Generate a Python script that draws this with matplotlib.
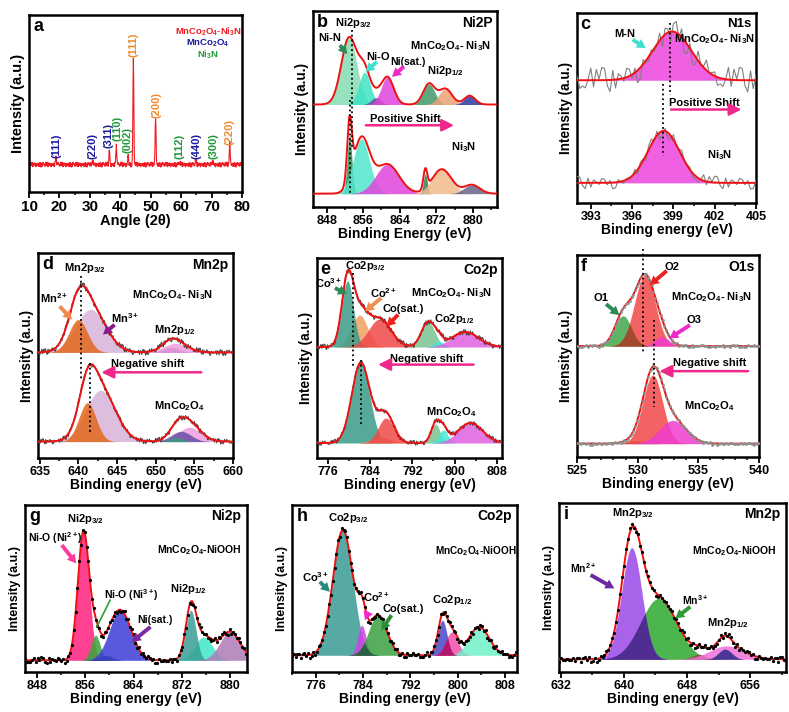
import numpy as np
import matplotlib
matplotlib.use('Agg')
import matplotlib.pyplot as plt
from matplotlib.ticker import MultipleLocator

plt.rcParams['font.family'] = ['Liberation Sans', 'DejaVu Sans']
plt.rcParams['font.weight'] = 'bold'
plt.rcParams['axes.labelweight'] = 'bold'
plt.rcParams['mathtext.fontset'] = 'custom'
plt.rcParams['mathtext.rm'] = 'Liberation Sans:bold'
plt.rcParams['mathtext.it'] = 'Liberation Sans:bold'
plt.rcParams['mathtext.bf'] = 'Liberation Sans:bold'
plt.rcParams['mathtext.default'] = 'rm'

# jitter, reused cyclically
JITTER = [0.31, -0.52, 0.84, -0.18, -0.93, 0.42, 0.08, -0.61, 0.73, -0.27,
          0.55, -0.82, 0.19, 0.96, -0.44, -0.07, 0.63, -0.71, 0.36, -0.24,
          0.88, -0.57, 0.12, -0.98, 0.47, -0.13, 0.67, -0.41, 0.03, 0.78,
          -0.66, 0.27, -0.34, 0.51, -0.87, 0.92, -0.04, 0.39, -0.76, 0.22,
          -0.29, 0.71, -0.49, 0.14, -0.91, 0.58, -0.21, 0.33, -0.63, 0.81]

# (a) XRD
XRD_BASE = 0.155
XRD_POS = [18.9, 31.0, 36.4, 38.7, 42.6, 44.3, 51.6, 59.5, 64.8, 70.4, 76.0]
XRD_HGT = [0.05, 0.015, 0.08, 0.11, 0.05, 0.60, 0.27, 0.012, 0.02, 0.015, 0.12]
XRD_HKL = ['(111)', '(220)', '(311)', '(110)', '(002)', '(111)', '(200)',
           '(112)', '(440)', '(300)', '(220)']
XRD_PHASE = ['s', 's', 's', 'n', 'n', 'c', 'c', 'n', 's', 'n', 'c']

# (b) Ni2p, MnCo2O4-Ni3N (top) and Ni3N (bottom)
B_TOP_BASE = 0.523
B_TOP_CEN = [852.9, 856.3, 858.8, 861.3, 870.4, 874.0, 879.3]
B_TOP_HGT = [0.34, 0.165, 0.035, 0.14, 0.105, 0.08, 0.045]
B_TOP_FWHM = [4.0, 3.0, 2.5, 3.2, 3.0, 3.4, 2.8]
B_BOT_BASE = 0.068
B_BOT_CEN = [853.0, 855.6, 861.3, 869.6, 873.2, 879.8]
B_BOT_HGT = [0.30, 0.28, 0.15, 0.10, 0.125, 0.045]
B_BOT_FWHM = [1.2, 4.2, 6.0, 1.0, 5.0, 4.0]

# (c) N1s
C_TOP_BASE = 0.646
C_TOP_CEN, C_TOP_HGT, C_TOP_FWHM = [398.9], [0.257], [3.3]
C_BOT_BASE = 0.106
C_BOT_CEN, C_BOT_HGT, C_BOT_FWHM = [398.3], [0.274], [2.7]

# (d) Mn2p
D_TOP_BASE = 0.515
D_TOP_CEN = [641.6, 640.0, 652.0, 652.6]
D_TOP_HGT = [0.21, 0.16, 0.025, 0.045]
D_TOP_FWHM = [4.6, 2.8, 2.5, 3.5]
D_BOT_BASE = 0.08
D_BOT_CEN = [642.9, 641.2, 654.4, 653.3, 652.6]
D_BOT_HGT = [0.25, 0.19, 0.07, 0.05, 0.02]
D_BOT_FWHM = [4.5, 2.6, 3.5, 3.0, 2.0]

# (e) Co2p
E_TOP_BASE = 0.555
E_TOP_CEN = [782.0, 779.7, 785.8, 795.0, 797.0, 802.0]
E_TOP_HGT = [0.16, 0.33, 0.14, 0.125, 0.03, 0.075]
E_TOP_FWHM = [3.5, 2.6, 5.0, 3.0, 2.0, 6.0]
E_BOT_BASE = 0.075
E_BOT_CEN = [782.2, 786.0, 787.0, 796.4, 797.9, 803.0]
E_BOT_HGT = [0.40, 0.03, 0.125, 0.095, 0.065, 0.10]
E_BOT_FWHM = [4.0, 4.0, 3.5, 2.0, 2.0, 5.5]

# (f) O1s
F_TOP_BASE = 0.549
F_TOP_CEN = [528.8, 530.6, 532.0]
F_TOP_HGT = [0.15, 0.35, 0.045]
F_TOP_FWHM = [1.6, 2.0, 1.4]
F_BOT_BASE = 0.066
F_BOT_CEN = [529.8, 531.25, 532.9]
F_BOT_HGT = [0.015, 0.34, 0.115]
F_BOT_FWHM = [2.0, 1.9, 2.6]

# (g) Ni2p, MnCo2O4-NiOOH
G_BASE = 0.07
G_CEN = [855.7, 857.7, 859.5, 861.8, 875.6, 873.5, 880.0]
G_HGT = [0.77, 0.15, 0.03, 0.30, 0.14, 0.30, 0.17]
G_FWHM = [2.2, 1.8, 2.5, 4.2, 3.5, 2.0, 4.0]

# (h) Co2p, MnCo2O4-NiOOH
H_BASE = 0.10
H_CEN = [780.6, 783.8, 786.5, 797.4, 799.0, 803.6]
H_HGT = [0.75, 0.18, 0.24, 0.21, 0.14, 0.17]
H_FWHM = [4.0, 1.6, 3.6, 1.8, 2.4, 4.0]

# (i) Mn2p, MnCo2O4-NiOOH
I_BASE = 0.075
I_CEN = [644.4, 641.0, 649.5, 653.0, 652.8]
I_HGT = [0.36, 0.66, 0.03, 0.08, 0.06]
I_FWHM = [5.4, 3.0, 2.0, 5.0, 2.0]

RED = '#ee1111'
SHIFT = '#f0288c'
W, H = 789, 712


def rect(x0, y0, x1, y1):
    return [x0 / W, 1 - y1 / H, (x1 - x0) / W, (y1 - y0) / H]


def components(x, cen, hgt, fw):
    x = np.asarray(x)[None, :]
    c = np.asarray(cen)[:, None]
    h = np.asarray(hgt)[:, None]
    w = np.asarray(fw)[:, None]
    return h * np.exp(-4 * np.log(2) * ((x - c) / w) ** 2)


def jitter(n, scale, offset=0):
    idx = (np.arange(n) * 7 + offset) % len(JITTER)
    return np.asarray(JITTER)[idx] * scale


def spectrum(ax, xr, base, cen, hgt, fw, colors, overlaps=(), alpha=0.85):
    x = np.linspace(xr[0], xr[1], 900)
    parts = components(x, cen, hgt, fw)
    for p, col in zip(parts, colors):
        ax.fill_between(x, base, base + p, where=p > 1e-3, color=col,
                        alpha=alpha, lw=0, zorder=2)
    for i, j, col in overlaps:
        ov = np.minimum(parts[i], parts[j])
        ax.fill_between(x, base, base + ov, where=ov > 1e-3, color=col,
                        alpha=0.9, lw=0, zorder=3)
    ax.plot(x, base + parts.sum(axis=0), color=RED, lw=1.4, zorder=6)


def raw(ax, xr, base, cen, hgt, fw, step, scale, kind, offset=0):
    x = np.arange(xr[0], xr[1] + 1e-9, step)
    y = base + components(x, cen, hgt, fw).sum(axis=0) + jitter(len(x), scale, offset)
    if kind == 'line':
        ax.plot(x, y, color='#3a3a3a', lw=0.7, zorder=4)
    elif kind == 'grey':
        ax.plot(x, y, color='#808080', lw=0.8, zorder=4)
    elif kind == 'gdots':
        ax.plot(x, y, ls='none', marker='o', ms=1.0, color='#909090', zorder=7)
    else:
        ax.plot(x, y, ls='none', marker='o', ms=1.3, color='k', zorder=7)


def style(ax, xlim, major, minor, xlabel, letter, title, tsize=9, lsize=10,
          ysize=9.8, tlsize=10):
    ax.set_xlim(xlim)
    ax.set_ylim(0, 1)
    ax.set_yticks([])
    ax.xaxis.set_major_locator(MultipleLocator(major))
    ax.xaxis.set_minor_locator(MultipleLocator(minor))
    ax.tick_params(axis='x', which='major', direction='out', length=4,
                   width=1.3, labelsize=tsize, pad=1.5)
    ax.tick_params(axis='x', which='minor', direction='out', length=2.5, width=1.1)
    for s in ax.spines.values():
        s.set_linewidth(1.8)
    ax.set_xlabel(xlabel, fontsize=lsize, labelpad=0)
    ax.set_ylabel('Intensity (a.u.)', fontsize=ysize, labelpad=3)
    ax.text(0.02, 0.985, letter, transform=ax.transAxes, ha='left', va='top',
            fontsize=13, fontweight='bold')
    if title:
        ax.text(0.975, 0.975, title, transform=ax.transAxes, ha='right',
                va='top', fontsize=tlsize, fontweight='bold')


def txt(ax, x, y, s, size=8, color='k'):
    ax.text(x, y, s, fontsize=size, color=color, ha='center', va='center',
            fontweight='bold', zorder=9)


def fat(ax, frm, to, color):
    ax.annotate('', xy=to, xytext=frm, zorder=9,
                arrowprops=dict(arrowstyle='simple,head_width=0.9,head_length=0.8,tail_width=0.35',
                                fc=color, ec='none', shrinkA=0, shrinkB=0,
                                mutation_scale=8))


def shift(ax, frm, to):
    ax.annotate('', xy=to, xytext=frm, zorder=9,
                arrowprops=dict(arrowstyle='-|>,head_width=0.3,head_length=0.6',
                                color=SHIFT, lw=1.8, shrinkA=0, shrinkB=0,
                                mutation_scale=12))


def dotted(ax, x, y0, y1, clip=True):
    ax.plot([x, x], [y0, y1], ls=':', color='k', lw=1.3, zorder=8, clip_on=clip)


fig = plt.figure(figsize=(7.89, 7.12), dpi=100)

# ---------------- a ----------------
ax = fig.add_axes(rect(29, 15, 242, 192))
x = np.union1d(np.arange(10, 80.001, 0.1), XRD_POS)
y = XRD_BASE + components(x, XRD_POS, XRD_HGT, [0.35] * len(XRD_POS)).sum(axis=0) \
    + jitter(len(x), 0.014)
ax.plot(x, y, color='#ee1c24', lw=0.8)
style(ax, (10, 80), 10, 5, 'Angle (2θ)', 'a', None, tsize=11, lsize=10.5, ysize=10.5)
phase_col = {'s': '#1a1aa0', 'n': '#1f9a35', 'c': '#f08a30'}
hkl_x = [19.0, 31.0, 36.0, 39.2, 42.3, 44.2, 52.0, 59.5, 65.0, 70.5, 76.0]
hkl_y = [0.26, 0.26, 0.32, 0.36, 0.295, 0.83, 0.49, 0.26, 0.26, 0.26, 0.34]
for lab, ph, hx, hy in zip(XRD_HKL, XRD_PHASE, hkl_x, hkl_y):
    ax.text(hx, hy, lab, rotation=90, ha='center', va='center', fontsize=8,
            color=phase_col[ph], fontweight='bold')
txt(ax, 68.8, 0.906, 'MnCo$_2$O$_4$-Ni$_3$N', 6.8, '#ee1c24')
txt(ax, 68.8, 0.84, 'MnCo$_2$O$_4$', 6.8, '#1a1aa0')
txt(ax, 68.8, 0.778, 'Ni$_3$N', 6.8, '#1f9a35')

# ---------------- b ----------------
ax = fig.add_axes(rect(313, 11, 497, 207))
xr = (845, 885.3)
spectrum(ax, xr, B_TOP_BASE, B_TOP_CEN, B_TOP_HGT, B_TOP_FWHM,
         ['#86dcb4', '#3fe3c6', '#6c4fa3', '#e044dc', '#3f9a6a', '#eba276', '#2f3aa0'])
spectrum(ax, xr, B_BOT_BASE, B_BOT_CEN, B_BOT_HGT, B_BOT_FWHM,
         ['#2e8b57', '#52e6cc', '#e044dc', '#3a7a50', '#f2bb8e', '#66668a'])
style(ax, xr, 8, 4, 'Binding Energy (eV)', 'b', 'Ni2P')
dotted(ax, 853.6, 0.903, 0.307)
dotted(ax, 853.1, 0.545, 0.068)
txt(ax, 853.8, 0.94, 'Ni2p$_{3/2}$')
txt(ax, 848.6, 0.864, 'Ni-N')
fat(ax, (850.9, 0.826), (852.5, 0.78), '#2e8b57')
txt(ax, 875.2, 0.821, 'MnCo$_2$O$_4$- Ni$_3$N')
txt(ax, 859.2, 0.763, 'Ni-O')
fat(ax, (859.0, 0.741), (856.5, 0.69), '#40e0d0')
txt(ax, 865.8, 0.741, 'Ni(sat.)', 7.5)
fat(ax, (864.9, 0.716), (862.3, 0.664), '#f02ac8')
txt(ax, 874.1, 0.695, 'Ni2p$_{1/2}$')
txt(ax, 865.3, 0.451, 'Positive Shift')
shift(ax, (856.6, 0.417), (875.9, 0.417))
txt(ax, 877.9, 0.307, 'Ni$_3$N')

# ---------------- c ----------------
ax = fig.add_axes(rect(577, 13, 756, 203))
xr = (392, 405)
raw(ax, xr, C_TOP_BASE, C_TOP_CEN, C_TOP_HGT, C_TOP_FWHM, 0.2, 0.07, 'grey')
raw(ax, xr, C_BOT_BASE, C_BOT_CEN, C_BOT_HGT, C_BOT_FWHM, 0.2, 0.035, 'grey', 13)
spectrum(ax, xr, C_TOP_BASE, C_TOP_CEN, C_TOP_HGT, C_TOP_FWHM, ['#ee44dd'])
spectrum(ax, xr, C_BOT_BASE, C_BOT_CEN, C_BOT_HGT, C_BOT_FWHM, ['#ee44dd'])
style(ax, xr, 3, 1.5, 'Binding energy (eV)', 'c', 'N1s', tlsize=9.5)
dotted(ax, 398.77, 0.947, 0.566)
dotted(ax, 398.23, 0.628, 0.248)
txt(ax, 395.5, 0.89, 'M-N')
fat(ax, (396.04, 0.86), (397.0, 0.815), '#40e0d0')
txt(ax, 402.0, 0.865, 'MnCo$_2$O$_4$- Ni$_3$N')
txt(ax, 401.27, 0.526, 'Positive Shift')
shift(ax, (398.84, 0.492), (403.95, 0.492))
txt(ax, 402.37, 0.253, 'Ni$_3$N')

# ---------------- d ----------------
ax = fig.add_axes(rect(38, 253, 233, 458))
xr = (634.8, 660)
spectrum(ax, xr, D_TOP_BASE, D_TOP_CEN, D_TOP_HGT, D_TOP_FWHM,
         ['#d9b3da', '#e2681c', '#5b4a9f', '#f09ee0'])
spectrum(ax, xr, D_BOT_BASE, D_BOT_CEN, D_BOT_HGT, D_BOT_FWHM,
         ['#d9b3da', '#e2681c', '#f09ee0', '#6a50a8', '#3a9a80'])
raw(ax, xr, D_TOP_BASE, D_TOP_CEN, D_TOP_HGT, D_TOP_FWHM, 0.1, 0.016, 'line')
raw(ax, xr, D_BOT_BASE, D_BOT_CEN, D_BOT_HGT, D_BOT_FWHM, 0.1, 0.014, 'line', 21)
style(ax, xr, 5, 2.5, 'Binding energy (eV)', 'd', 'Mn2p')
dotted(ax, 640.3, 0.886, 0.374)
dotted(ax, 641.55, 0.463, 0.122)
txt(ax, 640.9, 0.927, 'Mn2p$_{3/2}$')
txt(ax, 636.9, 0.78, 'Mn$^{2+}$')
fat(ax, (637.6, 0.74), (639.2, 0.675), '#f08a50')
txt(ax, 652.2, 0.797, 'MnCo$_2$O$_4$- Ni$_3$N')
txt(ax, 646.0, 0.683, 'Mn$^{3+}$')
fat(ax, (644.7, 0.65), (643.2, 0.602), '#8a1a8a')
txt(ax, 652.5, 0.626, 'Mn2p$_{1/2}$')
txt(ax, 649.0, 0.46, 'Negative shift')
shift(ax, (655.9, 0.418), (643.0, 0.418))
txt(ax, 653.0, 0.255, 'MnCo$_2$O$_4$')

# ---------------- e ----------------
ax = fig.add_axes(rect(317, 258, 502, 458))
xr = (773.9, 809)
spectrum(ax, xr, E_TOP_BASE, E_TOP_CEN, E_TOP_HGT, E_TOP_FWHM,
         ['#f0a060', '#3a9a88', '#f04848', '#78c490', '#40e8d8', '#e060e0'])
spectrum(ax, xr, E_BOT_BASE, E_BOT_CEN, E_BOT_HGT, E_BOT_FWHM,
         ['#3a9a88', '#f0a060', '#f04848', '#78c490', '#40e8d8', '#e060e0'])
raw(ax, xr, E_TOP_BASE, E_TOP_CEN, E_TOP_HGT, E_TOP_FWHM, 0.15, 0.015, 'line')
raw(ax, xr, E_BOT_BASE, E_BOT_CEN, E_BOT_HGT, E_BOT_FWHM, 0.15, 0.013, 'line', 9)
style(ax, xr, 8, 4, 'Binding energy (eV)', 'e', 'Co2p')
dotted(ax, 780.75, 0.925, 0.45)
dotted(ax, 782.3, 0.49, 0.158)
txt(ax, 783.0, 0.962, 'Co2p$_{3/2}$')
txt(ax, 776.0, 0.872, 'Co$^{3+}$')
fat(ax, (777.3, 0.85), (779.6, 0.82), '#2e8b57')
txt(ax, 786.5, 0.825, 'Co$^{2+}$')
fat(ax, (786.1, 0.8), (783.0, 0.733), '#f09050')
txt(ax, 799.4, 0.825, 'MnCo$_2$O$_4$- Ni$_3$N')
txt(ax, 790.3, 0.745, 'Co(sat.)')
fat(ax, (789.3, 0.717), (787.1, 0.658), '#ee2020')
txt(ax, 799.9, 0.695, 'Co2p$_{1/2}$')
txt(ax, 794.7, 0.495, 'Negative shift')
shift(ax, (803.6, 0.467), (785.5, 0.467))
txt(ax, 799.3, 0.228, 'MnCo$_2$O$_4$')

# ---------------- f ----------------
ax = fig.add_axes(rect(577, 255, 759, 457))
xr = (525, 540)
spectrum(ax, xr, F_TOP_BASE, F_TOP_CEN, F_TOP_HGT, F_TOP_FWHM,
         ['#3fa84a', '#f24848', '#f03cd0'], overlaps=[(0, 1, '#9a4a2a')])
spectrum(ax, xr, F_BOT_BASE, F_BOT_CEN, F_BOT_HGT, F_BOT_FWHM,
         ['#7a6040', '#f24848', '#f03cd0'])
raw(ax, xr, F_TOP_BASE, F_TOP_CEN, F_TOP_HGT, F_TOP_FWHM, 0.15, 0.006, 'gdots')
raw(ax, xr, F_BOT_BASE, F_BOT_CEN, F_BOT_HGT, F_BOT_FWHM, 0.15, 0.006, 'gdots', 5)
style(ax, xr, 5, 1, 'Binding energy (eV)', 'f', 'O1s')
dotted(ax, 530.44, 1.03, 0.516, clip=False)
dotted(ax, 531.35, 0.678, 0.248)
txt(ax, 532.8, 0.942, 'O2')
fat(ax, (532.4, 0.922), (531.0, 0.851), '#ee2020')
txt(ax, 527.0, 0.785, 'O1')
fat(ax, (527.4, 0.757), (528.5, 0.702), '#2e8b57')
txt(ax, 536.1, 0.793, 'MnCo$_2$O$_4$- Ni$_3$N')
txt(ax, 534.6, 0.678, 'O3')
fat(ax, (534.3, 0.653), (532.6, 0.587), '#f02ac8')
txt(ax, 535.9, 0.466, 'Negative shift')
shift(ax, (539.1, 0.425), (531.8, 0.425))
txt(ax, 535.9, 0.251, 'MnCo$_2$O$_4$')

# ---------------- g ----------------
ax = fig.add_axes(rect(25, 505, 247, 672))
xr = (846, 882.8)
spectrum(ax, xr, G_BASE, G_CEN, G_HGT, G_FWHM,
         ['#ff1f7f', '#3aa53a', '#2a3a3a', '#3c3cd8', '#40e8c8', '#3a9e96', '#b07ab8'])
raw(ax, xr, G_BASE, G_CEN, G_HGT, G_FWHM, 0.3, 0.018, 'dots')
style(ax, xr, 8, 4, 'Binding energy (eV)', 'g', 'Ni2p', ysize=9)
txt(ax, 856.0, 0.914, 'Ni2p$_{3/2}$')
txt(ax, 851.0, 0.8, 'Ni-O (Ni$^{2+}$)', 7.5)
fat(ax, (852.1, 0.76), (854.5, 0.65), '#ff3a9a')
txt(ax, 874.9, 0.73, 'MnCo$_2$O$_4$-NiOOH', 7.5)
txt(ax, 863.7, 0.46, 'Ni-O (Ni$^{3+}$)', 7.5)
ax.plot([860.1, 857.9], [0.43, 0.27], color='#2ea02e', lw=1.2, zorder=9)
txt(ax, 873.1, 0.5, 'Ni2p$_{1/2}$')
txt(ax, 867.6, 0.314, 'Ni(sat.)', 7.5)
fat(ax, (866.8, 0.27), (863.7, 0.18), '#7a2aa0')

# ---------------- h ----------------
ax = fig.add_axes(rect(292, 505, 517, 672))
xr = (772, 810)
spectrum(ax, xr, H_BASE, H_CEN, H_HGT, H_FWHM,
         ['#3a9a94', '#d040e8', '#3aa040', '#4848c8', '#f050a8', '#70f0c8'],
         overlaps=[(0, 2, '#2a5a44'), (3, 4, '#b0106a')])
raw(ax, xr, H_BASE, H_CEN, H_HGT, H_FWHM, 0.3, 0.018, 'dots', 3)
style(ax, xr, 8, 4, 'Binding energy (eV)', 'h', 'Co2p', ysize=9)
txt(ax, 781.5, 0.92, 'Co2p$_{3/2}$')
txt(ax, 775.9, 0.57, 'Co$^{3+}$')
fat(ax, (776.7, 0.54), (778.4, 0.48), '#2a8a80')
txt(ax, 803.0, 0.724, 'MnCo$_2$O$_4$-NiOOH', 7.2)
txt(ax, 786.3, 0.45, 'Co$^{2+}$')
fat(ax, (784.9, 0.36), (784.3, 0.31), '#f02ac8')
txt(ax, 790.8, 0.38, 'Co(sat.)')
fat(ax, (788.8, 0.34), (787.1, 0.25), '#2e8b3a')
txt(ax, 799.1, 0.43, 'Co2p$_{1/2}$')

# ---------------- i ----------------
ax = fig.add_axes(rect(559, 503, 786, 672))
xr = (631.8, 660.5)
spectrum(ax, xr, I_BASE, I_CEN, I_HGT, I_FWHM,
         ['#2ea82e', '#9a48e8', '#a04a4a', '#f070d8', '#2a2a8a'],
         overlaps=[(0, 1, '#4a2a8a')])
raw(ax, xr, I_BASE, I_CEN, I_HGT, I_FWHM, 0.25, 0.018, 'dots', 11)
style(ax, xr, 8, 4, 'Binding energy (eV)', 'i', 'Mn2p', ysize=9)
txt(ax, 641.1, 0.94, 'Mn2p$_{3/2}$')
txt(ax, 634.8, 0.614, 'Mn$^{2+}$', 7.5)
fat(ax, (635.8, 0.574), (638.8, 0.495), '#6a2aa0')
txt(ax, 654.0, 0.717, 'MnCo$_2$O$_4$-NiOOH', 7.5)
txt(ax, 649.0, 0.426, 'Mn$^{3+}$', 7.5)
fat(ax, (648.4, 0.386), (646.5, 0.317), '#2e9a3a')
txt(ax, 653.2, 0.287, 'Mn2p$_{1/2}$')

fig.savefig('out.png', dpi=100)
